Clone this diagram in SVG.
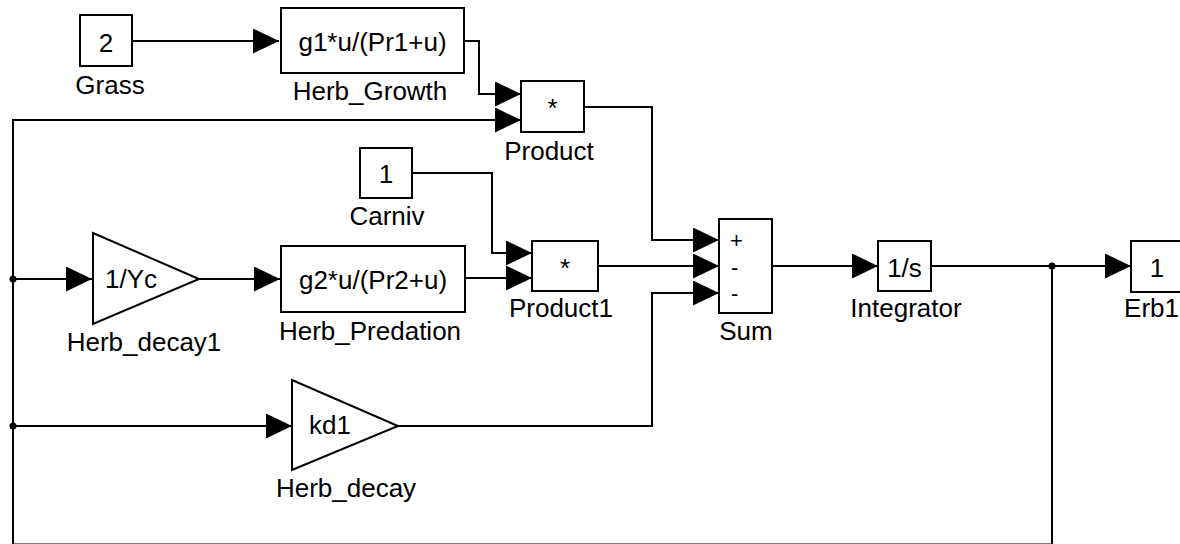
<svg xmlns="http://www.w3.org/2000/svg" width="1180" height="544" viewBox="0 0 1180 544">
<style>
.blk{fill:#fff;stroke:#000;stroke-width:2}
.ln{fill:none;stroke:#000;stroke-width:2}
.t{font-family:"Liberation Sans",Arial,sans-serif;font-size:26px;fill:#000}
.c{text-anchor:middle}
.s{font-family:"Liberation Sans",Arial,sans-serif;font-size:22px;fill:#000}
</style>
<defs>
<marker id="ah" markerUnits="userSpaceOnUse" markerWidth="27" markerHeight="26" refX="26" refY="12.5" orient="auto">
<path d="M0,0 L26,12.5 L0,25 Z" fill="#000"/>
</marker>
</defs>
<rect width="1180" height="544" fill="#fff"/>
<g id="connectors">
<path class="ln" d="M132,41 H279" marker-end="url(#ah)"/>
<path class="ln" d="M465,41 H479 V94 H521" marker-end="url(#ah)"/>
<path class="ln" d="M1052,266 V544.5 H13 V120 H521" marker-end="url(#ah)"/>
<path class="ln" d="M13,279 H92" marker-end="url(#ah)"/>
<path class="ln" d="M13,426 H292" marker-end="url(#ah)"/>
<path class="ln" d="M199,279 H280" marker-end="url(#ah)"/>
<path class="ln" d="M412,173 H492 V253 H532" marker-end="url(#ah)"/>
<path class="ln" d="M465,278 H532" marker-end="url(#ah)"/>
<path class="ln" d="M584,107 H652 V240 H719" marker-end="url(#ah)"/>
<path class="ln" d="M598,266 H719" marker-end="url(#ah)"/>
<path class="ln" d="M398,426 H652 V293 H719" marker-end="url(#ah)"/>
<path class="ln" d="M772,266 H878" marker-end="url(#ah)"/>
<path class="ln" d="M931,266 H1131" marker-end="url(#ah)"/>
<circle cx="13" cy="279" r="3.5"/>
<circle cx="13" cy="426" r="3.5"/>
<circle cx="1052" cy="266" r="3.5"/>
</g>
<g id="Grass">
<rect class="blk" x="80" y="15" width="52" height="51"/>
<text class="t c" x="106" y="52">2</text>
<text class="t c" x="110" y="94">Grass</text>
</g>
<g id="Herb_Growth">
<rect class="blk" x="281" y="8" width="183" height="65"/>
<text class="t c" x="372.5" y="51">g1*u/(Pr1+u)</text>
<text class="t c" x="370" y="100">Herb_Growth</text>
</g>
<g id="Product">
<rect class="blk" x="521" y="81" width="63" height="51"/>
<text class="t c" x="552.5" y="117">*</text>
<text class="t c" x="549" y="160">Product</text>
</g>
<g id="Carniv">
<rect class="blk" x="360" y="148" width="52" height="50"/>
<text class="t c" x="386" y="183">1</text>
<text class="t c" x="387" y="225">Carniv</text>
</g>
<g id="Herb_decay1">
<polygon class="blk" points="93,233 199,279 93,324"/>
<text class="t" x="105" y="288">1/Yc</text>
<text class="t c" x="144" y="351">Herb_decay1</text>
</g>
<g id="Herb_Predation">
<rect class="blk" x="281" y="246" width="184" height="66"/>
<text class="t c" x="373" y="289">g2*u/(Pr2+u)</text>
<text class="t c" x="370" y="340">Herb_Predation</text>
</g>
<g id="Product1">
<rect class="blk" x="532" y="241" width="66" height="50"/>
<text class="t c" x="565" y="277">*</text>
<text class="t c" x="561" y="317">Product1</text>
</g>
<g id="Herb_decay">
<polygon class="blk" points="292,380 398,426 292,470"/>
<text class="t" x="309" y="434">kd1</text>
<text class="t c" x="346" y="497">Herb_decay</text>
</g>
<g id="Sum">
<rect class="blk" x="719" y="219" width="53" height="94"/>
<text class="s" x="730" y="248">+</text>
<text class="s" x="731" y="275">-</text>
<text class="s" x="731" y="301">-</text>
<text class="t c" x="746" y="340">Sum</text>
</g>
<g id="Integrator">
<rect class="blk" x="878" y="241" width="53" height="50"/>
<text class="t c" x="904.5" y="277">1/s</text>
<text class="t c" x="906" y="317">Integrator</text>
</g>
<g id="Erb1">
<rect class="blk" x="1131" y="241" width="55" height="51"/>
<text class="t c" x="1157" y="277">1</text>
<text class="t" x="1179" y="317" text-anchor="end">Erb1</text>
</g>
</svg>
